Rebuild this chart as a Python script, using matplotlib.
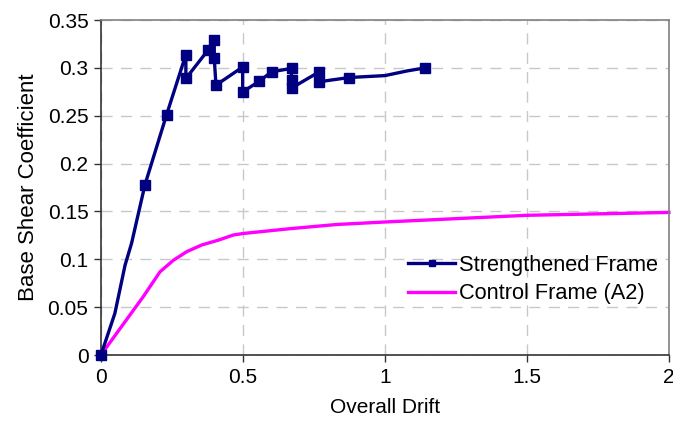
import matplotlib
matplotlib.use("Agg")
import matplotlib.pyplot as plt

plt.rcParams['font.family'] = ['Liberation Sans', 'DejaVu Sans']

strength_x = [0.0, 0.049, 0.085, 0.108, 0.155, 0.231, 0.299, 0.299, 0.378, 0.399, 0.399, 0.405,
              0.499, 0.499, 0.557, 0.601, 0.671, 0.671, 0.671, 0.769, 0.769, 0.874, 1.0, 1.08, 1.141]
strength_y = [0.0, 0.0435, 0.094, 0.117, 0.178, 0.251, 0.314, 0.289, 0.319, 0.329, 0.310, 0.282,
              0.301, 0.275, 0.286, 0.296, 0.2995, 0.287, 0.279, 0.296, 0.2856, 0.290, 0.292, 0.297, 0.300]
strength_marked = [True, False, False, False, True, True, True, True, True, True, True, True,
                   True, True, True, True, True, True, True, True, True, True, False, False, True]

control_x = [0.0, 0.055, 0.149, 0.208, 0.255, 0.302, 0.355, 0.413, 0.466, 0.501, 0.665, 0.83, 1.0, 1.5, 2.0]
control_y = [0.0, 0.0226, 0.061, 0.087, 0.099, 0.108, 0.115, 0.120, 0.1254, 0.127, 0.132, 0.1364, 0.139, 0.146, 0.149]

xticks = [0, 0.5, 1, 1.5, 2]
xticklabels = ['0', '0.5', '1', '1.5', '2']
yticks = [0, 0.05, 0.1, 0.15, 0.2, 0.25, 0.3, 0.35]
yticklabels = ['0', '0.05', '0.1', '0.15', '0.2', '0.25', '0.3', '0.35']

FS = 15

fig = plt.figure(figsize=(6.73, 4.25), dpi=100)
ax = fig.add_axes([0.150, 0.1647, 0.844, 0.788])

mark_idx = [i for i, m in enumerate(strength_marked) if m]
ax.plot(strength_x, strength_y, color='#000080', lw=2.4, marker='s', markersize=7,
        markevery=mark_idx, label='Strengthened Frame', zorder=3, clip_on=False)
ax.plot(control_x, control_y, color='#FF00FF', lw=2.4, label='Control Frame (A2)', zorder=2, clip_on=False)

ax.set_xlim(0, 2)
ax.set_ylim(0, 0.35)
ax.set_xticks(xticks)
ax.set_xticklabels(xticklabels, fontsize=FS)
ax.set_yticks(yticks)
ax.set_yticklabels(yticklabels, fontsize=FS)
ax.tick_params(direction='out', length=5, width=1, colors='#333333', labelcolor='black', pad=4)
ax.grid(True, color='#c8c8c8', linestyle=(0, (8, 6)), linewidth=1)
ax.set_axisbelow(True)

for s in ['left', 'bottom']:
    ax.spines[s].set_color('#333333')
    ax.spines[s].set_linewidth(1.2)
for s in ['top', 'right']:
    ax.spines[s].set_color('#808080')
    ax.spines[s].set_linewidth(1.2)

ax.set_xlabel('Overall Drift', fontsize=FS, labelpad=8)
ax.set_ylabel('Base Shear Coefficient', fontsize=16, labelpad=6)

leg = ax.legend(loc='lower right', bbox_to_anchor=(1.016, 0.093), frameon=False, fontsize=15.7,
                handlelength=2.15, labelspacing=0.35, handletextpad=0.2,
                markerscale=0.6)

fig.savefig('out.png', dpi=100)
